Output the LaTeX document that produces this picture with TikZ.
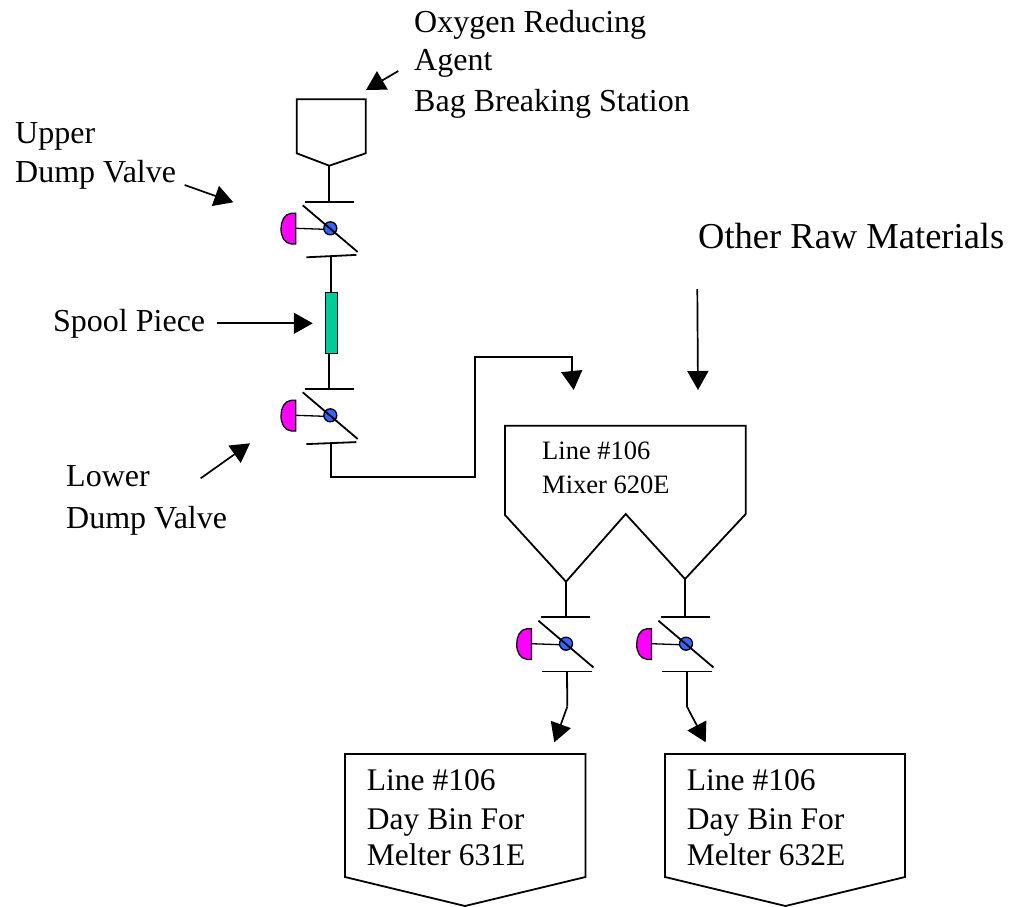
\documentclass[tikz,border=0pt]{standalone}
\usepackage{fontspec}
\usepackage{xcolor}
\usetikzlibrary{calc,arrows.meta,positioning}
\setmainfont{Liberation Serif}
\definecolor{valveMagenta}{RGB}{255,0,255}
\definecolor{valveBlue}{RGB}{51,102,255}
\definecolor{spoolGreen}{RGB}{0,204,153}
\tikzset{
    pipe/.style={black, line width=1.8pt, line join=miter},
    thinline/.style={black, line width=1.3pt},
    callout/.style={black, line width=1.7pt, -{Triangle[length=19pt,width=21pt]}},
    caption/.style={inner sep=0pt, anchor=base west, align=left, font=\fontsize{32}{39}\selectfont},
    bincaption/.style={inner sep=0pt, anchor=base west, align=left, font=\fontsize{31.5}{38}\selectfont},
    mixcaption/.style={inner sep=0pt, anchor=base west, align=left, font=\fontsize{26.5}{34}\selectfont},
    bigcaption/.style={inner sep=0pt, anchor=base west, font=\fontsize{36.5}{40}\selectfont}
}
% valve{name}{x}{y}{tilt of the lower bar}
\newcommand{\valve}[4]{
    \begin{scope}[shift={(#2,#3)}]
        \coordinate (#1top) at (-1,-26.6);
        \coordinate (#1bot) at (1,28);
        \draw[pipe] (-25,-26.6) -- (24,-26.6);
        \draw[pipe] (-24,{27.8+#4}) -- (26,{27.8-#4});
        \draw[thinline] (-34.6,0) -- (-6,1);
        \filldraw[thinline, fill=valveMagenta] (-34.6,-15) -- (-39,-15)
            .. controls (-46,-14.5) and (-49.3,-7) .. (-49.3,0.5)
            .. controls (-49.3,8) and (-46,15) .. (-39,15.7) -- (-34.6,15.7) -- cycle;
        \filldraw[thinline, fill=valveBlue] (0,0) circle (6.5);
        \draw[pipe] (-27.6,-23) -- (27.4,23.7);
    \end{scope}
}
\begin{document}
\begin{tikzpicture}[x=1pt,y=-1pt]
    \useasboundingbox (0,0) rectangle (1012,907);

    % valves
    \valve{upper}{330.3}{228.3}{1.2}
    \valve{lower}{330.3}{415.3}{1.0}
    \valve{left}{566}{643.7}{0}
    \valve{right}{686}{643.7}{0}

    % hopper
    \draw[pipe] (296.7,99.3) -- (365.7,99.3) -- (365.7,153.3) -- (329.3,165.7) -- (296.7,153.3) -- cycle;
    \coordinate (hopperout) at (329.3,165.7);
    \draw[pipe] (hopperout) -- (hopperout |- uppertop);

    % spool piece
    \node[draw=black, line width=1.5pt, fill=spoolGreen, minimum width=12pt, minimum height=61pt, inner sep=0pt] (spool) at (331.5,323) {};
    \draw[pipe] (upperbot) -- (spool.north -| upperbot);
    \draw[pipe] (spool.south -| lowertop) -- (lowertop);

    % transfer line to the mixer
    \coordinate (bendA) at (475,477);
    \coordinate (bendB) at (475,357);
    \coordinate (bendC) at (571.7,357);
    \coordinate (mixerin) at (573.7,390);
    \draw[pipe] (lowerbot) -- (lowerbot |- bendA) -- (bendA) -- (bendB) -- (bendC) -- (571.7,372);
    \draw[callout] (571.7,371) -- (mixerin);

    % mixer
    \draw[pipe] (505,425.7) -- (745.7,425.7) -- (745.7,514) -- (685,579) -- (625.7,514) -- (566,581.7) -- (505,515) -- cycle;
    \coordinate (mixerL) at (566,581.7);
    \coordinate (mixerR) at (685,579);
    \draw[pipe] (mixerL) -- (mixerL |- lefttop);
    \draw[pipe] (mixerR) -- (mixerR |- righttop);

    % day bins
    \draw[pipe] (345,754) -- (585.5,754) -- (585.5,877) -- (465,906) -- (345,877) -- cycle;
    \draw[pipe] (665,754) -- (905,754) -- (905,877) -- (785.5,906) -- (665,877) -- cycle;

    % drops into the bins
    \coordinate (dropL) at (567.3,706.7);
    \coordinate (dropR) at (687,706.7);
    \coordinate (binLin) at (554.3,742.3);
    \coordinate (binRin) at (705.7,742.3);
    \draw[pipe] (leftbot) -- (dropL);
    \draw[pipe] (rightbot) -- (dropR);
    \draw[callout] (dropL) -- (binLin);
    \draw[callout] (dropR) -- (binRin);

    % callout arrows
    \coordinate (oxyA) at (398.3,71);
    \coordinate (oxyB) at (366,90);
    \coordinate (updA) at (184.7,185);
    \coordinate (updB) at (233.3,202.3);
    \coordinate (spoolA) at (216.7,323.3);
    \coordinate (spoolB) at ($(spool.west |- spoolA)+(-12,0)$);
    \coordinate (lowA) at (200.7,478.3);
    \coordinate (lowB) at (250,443.3);
    \coordinate (rawA) at (697.3,289);
    \coordinate (rawB) at (698,390);
    \draw[callout] (oxyA) -- (oxyB);
    \draw[callout] (updA) -- (updB);
    \draw[callout] (spoolA) -- (spoolB);
    \draw[callout] (lowA) -- (lowB);
    \draw[callout] (rawA) -- (rawB);

    % labels
    \node[caption] (oxygen) at (414,32.7) {Oxygen Reducing};
    \node[caption] (agent) at (414,70.7) {Agent};
    \node[caption] (station) at (414,111) {Bag Breaking Station};
    \node[caption] (upperA) at (15,143) {Upper};
    \node[caption] (upperB) at (15,182.7) {Dump Valve};
    \node[caption] (spoolname) at (53,331) {Spool Piece};
    \node[caption] (lowerA) at (66,486.7) {Lower};
    \node[caption] (lowerB) at (66,528) {Dump Valve};
    \node[bigcaption] (rawname) at (698,248) {Other Raw Materials};
    \node[mixcaption] (mixA) at (542,459) {Line \#106};
    \node[mixcaption] (mixB) at (542,493) {Mixer 620E};
    \node[bincaption] (binLa) at (366.7,790.7) {Line \#106};
    \node[bincaption] (binLb) at (366.7,829) {Day Bin For};
    \node[bincaption] (binLc) at (366.7,865) {Melter 631E};
    \node[bincaption] (binRa) at (686.7,790.7) {Line \#106};
    \node[bincaption] (binRb) at (686.7,829) {Day Bin For};
    \node[bincaption] (binRc) at (686.7,865) {Melter 632E};
\end{tikzpicture}
\end{document}
